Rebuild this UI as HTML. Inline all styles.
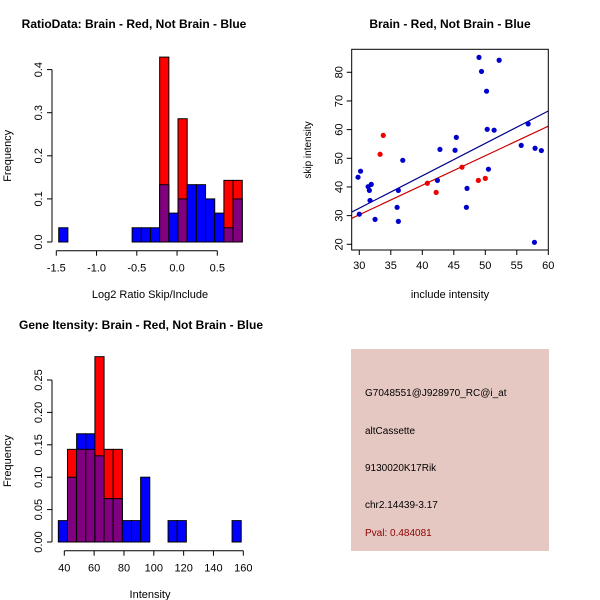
<!DOCTYPE html>
<html><head><meta charset="utf-8"><style>
body{margin:0;background:#fff}
svg{display:block;font-family:"Liberation Sans",sans-serif}
</style></head><body>
<svg id="c" width="600" height="600"></svg>
<script>
// Ratio histogram data
const ratioBinStart = -1.47, ratioBinWidth = 0.114;
const ratioBlue = [0.033,0,0,0,0,0,0,0,0.033,0.033,0.033,0.133,0.067,0.1,0.133,0.133,0.1,0.067,0.033,0.1];
const ratioRed  = [0,0,0,0,0,0,0,0,0,0,0,0.429,0,0.286,0,0,0,0,0.143,0.143];
const ratioXTicks = [-1.5,-1.0,-0.5,0.0,0.5];
const ratioXTickLabels = ["-1.5","-1.0","-0.5","0.0","0.5"];
const ratioYTicks = [0,0.1,0.2,0.3,0.4];
const ratioYTickLabels = ["0.0","0.1","0.2","0.3","0.4"];
// Scatter data
const blueX = [29.8,30.2,30,31.4,31.6,31.9,31.7,32.5,36.0,36.2,36.2,36.9,42.4,42.8,45.2,45.4,47.0,47.1,49.0,49.4,50.2,50.3,50.5,51.4,52.2,55.7,56.8,57.8,57.9,58.9];
const blueY = [43.4,45.5,30.5,40.1,38.8,40.9,35.3,28.7,32.9,38.8,28.0,49.3,42.3,53.1,52.8,57.3,32.9,39.5,85.2,80.3,73.4,60.1,46.2,59.8,84.2,54.5,62.0,20.7,53.5,52.7];
const redX = [33.3,33.8,40.8,42.2,46.3,48.9,50.0];
const redY = [51.4,58.0,41.3,38.1,46.9,42.3,43.0];
const blueFit = [-1.3,1.13];
const redFit = [-0.6,1.03];
const scXTicks = [30,35,40,45,50,55,60];
const scYTicks = [20,30,40,50,60,70,80];
// Intensity histogram data
const intBinStart = 36, intBinWidth = 6.13;
const intBlue = [0.033,0.1,0.167,0.167,0.133,0.067,0.067,0.033,0.033,0.1,0,0,0.033,0.033,0,0,0,0,0,0.033];
const intRed  = [0,0.143,0.143,0.143,0.286,0.143,0.143,0,0,0,0,0,0,0,0,0,0,0,0,0];
const intXTicks = [40,60,80,100,120,140,160];
const intYTicks = [0,0.05,0.1,0.15,0.2,0.25];
const intYTickLabels = ["0.00","0.05","0.10","0.15","0.20","0.25"];

const svg = document.getElementById('c');
const NS = 'http://www.w3.org/2000/svg';
function mk(tag, attrs, parent){
  const e = document.createElementNS(NS, tag);
  for (const k in attrs) e.setAttribute(k, attrs[k]);
  (parent||svg).appendChild(e);
  return e;
}
function txt(s, x, y, opts, parent){
  const t = mk('text', Object.assign({x:x, y:y, 'font-size':11, 'text-anchor':'middle', fill:'#000'}, opts||{}), parent);
  t.textContent = s;
  return t;
}

function histogram(name, binStart, bw, blue, red, sx, sy, xTicks, xLabels, yTicks, yLabels, axisX, axisY, title, titleX, titleY, xlab, xlabY){
  const g = mk('g', {});
  
  
  for (let i=0;i<blue.length;i++){
    const x0 = sx(binStart + i*bw), x1 = sx(binStart + (i+1)*bw);
    const b = blue[i], r = red[i];
    const hi = Math.max(b,r), lo = Math.min(b,r);
    if (hi<=0) continue;
    const top = mk('rect', {x:x0, y:sy(hi), width:x1-x0, height:sy(0)-sy(hi), fill: r>b ? '#ff0000' : '#0000ff', stroke:'#000', 'stroke-width':1}, g);
    
    
    if (lo>0){
      const ov = mk('rect', {x:x0, y:sy(lo), width:x1-x0, height:sy(0)-sy(lo), fill:'#80007f', stroke:'#000', 'stroke-width':1}, g);
      
      
    }
  }
  const xa = mk('g', {}, g);
  
  
  mk('line', {x1:sx(xTicks[0]), x2:sx(xTicks[xTicks.length-1]), y1:axisY, y2:axisY, stroke:'#000'}, xa);
  xTicks.forEach((v,i)=>{
    mk('line', {x1:sx(v), x2:sx(v), y1:axisY, y2:axisY+5, stroke:'#000'}, xa);
    txt(xLabels[i], sx(v), axisY+21, {}, xa);
  });
  const ya = mk('g', {}, g);
  
  
  mk('line', {x1:axisX, x2:axisX, y1:sy(yTicks[0]), y2:sy(yTicks[yTicks.length-1]), stroke:'#000'}, ya);
  yTicks.forEach((v,i)=>{
    mk('line', {x1:axisX-5, x2:axisX, y1:sy(v), y2:sy(v), stroke:'#000'}, ya);
    txt(yLabels[i], axisX-10, sy(v), {transform:'rotate(-90 '+(axisX-10)+' '+sy(v)+')'}, ya);
  });
  const tt = txt(title, titleX, titleY, {'font-weight':'bold', 'font-size':12}, g);
  
  
  const xl = txt(xlab, 150, xlabY, {'font-size':11}, g);
  
  
  const my = (sy(0)+sy(yTicks[yTicks.length-1]))/2;
  const yl = txt('Frequency', 11, my, {transform:'rotate(-90 11 '+my+')'}, g);
  
  
}

histogram('ratio-histogram', ratioBinStart, ratioBinWidth, ratioBlue, ratioRed,
  v => 56.3 + (v + 1.5) * 80.5,
  v => 242 - v * 431,
  ratioXTicks, ratioXTickLabels, ratioYTicks, ratioYTickLabels, 52, 250.7,
  'RatioData: Brain - Red, Not Brain - Blue', 134, 28, 'Log2 Ratio Skip/Include', 298);

histogram('intensity-histogram', intBinStart, intBinWidth, intBlue, intRed,
  v => 64.3 + (v - 40) * 1.4917,
  v => 542 - v * 648,
  intXTicks, intXTicks.map(String), intYTicks, intYTickLabels, 52, 550.7,
  'Gene Itensity: Brain - Red, Not Brain - Blue', 141, 329, 'Intensity', 598);

(function(){
  const g = mk('g', {});
  
  
  const sx = v => 359.3 + (v - 30) * 6.3;
  const sy = v => 244.3 - (v - 20) * 2.867;
  const L = 351.7, R = 548.3, T = 49.3, B = 250;
  const cp = mk('clipPath', {id:'clipsc'}, g);
  mk('rect', {x:L, y:T, width:R-L, height:B-T}, cp);
  const xmin = 28.8, xmax = 60;
  [[blueFit,'#00008b','blue-fit-line'],[redFit,'#cc0000','red-fit-line']].forEach(([f,c,n])=>{
    const ln = mk('line', {x1:sx(xmin), y1:sy(f[0]+f[1]*xmin), x2:sx(xmax), y2:sy(f[0]+f[1]*xmax), stroke:c, 'stroke-width':1.2, 'clip-path':'url(#clipsc)'}, g);
    
    
  });
  blueX.forEach((x,i)=>{
    const p = mk('circle', {cx:sx(x), cy:sy(blueY[i]), r:2.6, fill:'#0000cc'}, g);
    
    
  });
  redX.forEach((x,i)=>{
    const p = mk('circle', {cx:sx(x), cy:sy(redY[i]), r:2.6, fill:'#ee0000'}, g);
    
    
  });
  const box = mk('rect', {x:L, y:T, width:R-L, height:B-T, fill:'none', stroke:'#000'}, g);
  
  
  scXTicks.forEach(v=>{
    mk('line', {x1:sx(v), x2:sx(v), y1:B, y2:B+5, stroke:'#000'}, g);
    txt(String(v), sx(v), B+19, {}, g);
  });
  scYTicks.forEach(v=>{
    mk('line', {x1:L-5, x2:L, y1:sy(v), y2:sy(v), stroke:'#000'}, g);
    txt(String(v), L-9, sy(v), {transform:'rotate(-90 '+(L-9)+' '+sy(v)+')'}, g);
  });
  const t = txt('Brain - Red, Not Brain - Blue', 450, 28, {'font-weight':'bold','font-size':12}, g);
  
  
  const xl = txt('include intensity', 450, 298, {}, g);
  
  
  const yl = txt('skip intensity', 311, 150, {transform:'rotate(-90 311 150)', 'font-size':10}, g);
  
  
})();

(function(){
  const g = mk('g', {});
  
  
  mk('rect', {x:351, y:349, width:198, height:202, fill:'#e6c8c2'}, g);
  const lines = [['G7048551@J928970_RC@i_at',396,'#000','probe-id'],['altCassette',434,'#000','event-type'],['9130020K17Rik',471,'#000','gene-name'],['chr2.14439-3.17',508,'#000','location'],['Pval: 0.484081',536,'#8b0000','p-value']];
  lines.forEach(([s,y,c,n])=>{
    const t = txt(s, 365, y, {'text-anchor':'start','font-size':10,fill:c}, g);
    
    
  });
})();
</script>
</body></html>
